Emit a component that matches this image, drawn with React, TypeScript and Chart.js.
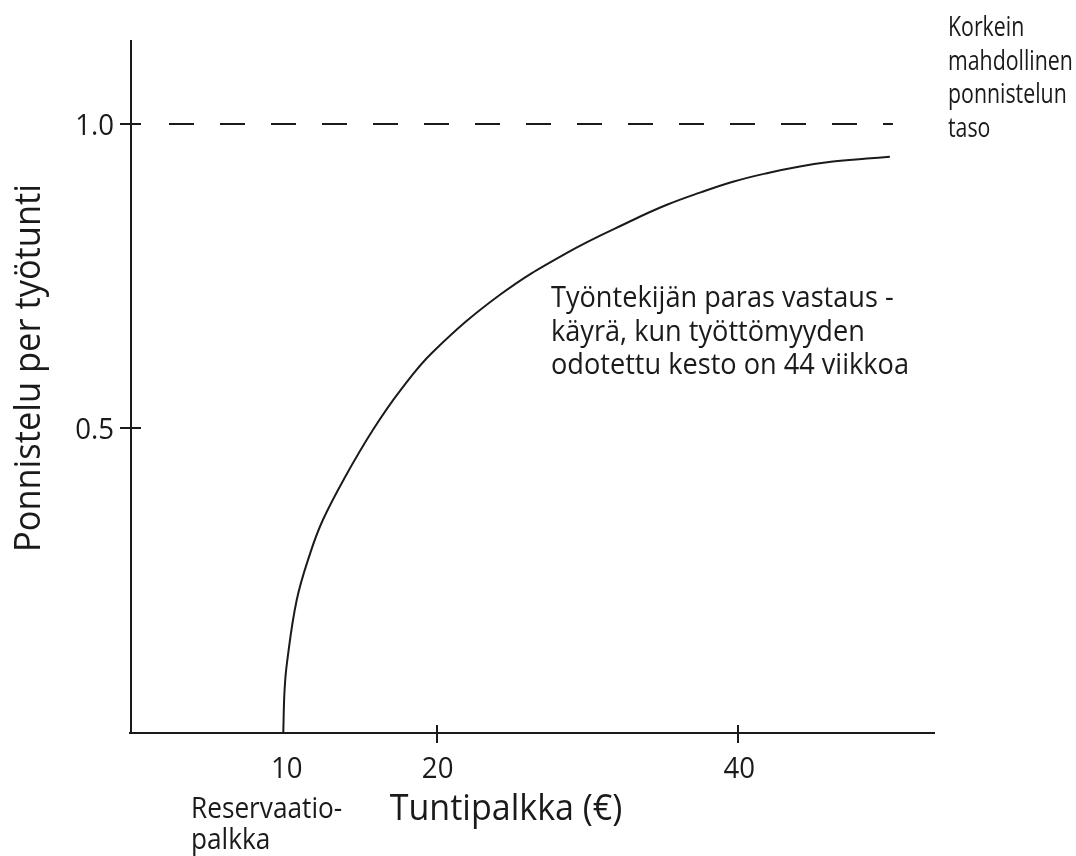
import React, { useEffect, useRef } from "react";
import { Chart, registerables } from "chart.js";

Chart.register(...registerables);

// ---- data ----
const wageValues = [9.83, 9.91, 10.07, 10.72, 11.6, 12.46, 13.92, 15.78, 17.57, 19.75, 24.2, 28.64, 33.02, 35.27, 37.46, 39.65, 41.9, 44.09, 46.28, 48.53, 50.06];
const effortValues = [0, 0.067, 0.113, 0.217, 0.293, 0.349, 0.419, 0.497, 0.561, 0.625, 0.719, 0.788, 0.842, 0.867, 0.887, 0.905, 0.919, 0.93, 0.938, 0.943, 0.946];
const maxEffortWage = [2.25, 50.26];
const maxEffortLevel = [1.0, 1.0];
const xTickValues = [20, 40];
const xLabelValues = [10, 20, 40];
const xLabelTexts = ["10", "20", "40"];
const yTickValues = [0.5, 1.0];
const yTickLabels = ["0.5", "1.0"];
const xAxisTitle = "Tuntipalkka (€)";
const yAxisTitle = "Ponnistelu per työtunti";
const reservationLabel = ["Reservaatio-", "palkka"];
const curveLabel = ["Työntekijän paras vastaus -", "käyrä, kun työttömyyden", "odotettu kesto on 44 viikkoa"];
const maxLabel = ["Korkein", "mahdollinen", "ponnistelun", "taso"];

const FONT = "'Open Sans', 'Noto Sans', sans-serif";
const INK = "#1a1a1a";
const SX = 0.92;

function drawText(
  ctx: CanvasRenderingContext2D,
  text: string,
  x: number,
  y: number,
  size: number,
  align: CanvasTextAlign = "left",
  sx: number = SX
) {
  ctx.save();
  ctx.translate(x, y);
  ctx.scale(sx, 1);
  ctx.font = `${size}px ${FONT}`;
  ctx.textAlign = align;
  ctx.textBaseline = "alphabetic";
  ctx.fillText(text, 0, 0);
  ctx.restore();
}

const decorPlugin = {
  id: "decor",
  afterDraw(chart: any) {
    const ctx = chart.ctx as CanvasRenderingContext2D;
    const xs = chart.scales.x;
    const ys = chart.scales.y;
    const area = chart.chartArea;
    const y0 = Math.round(ys.getPixelForValue(0)) + 1;
    ctx.save();
    ctx.strokeStyle = INK;
    ctx.fillStyle = INK;
    ctx.lineWidth = 2;
    // axes
    ctx.beginPath();
    ctx.moveTo(area.left, area.top);
    ctx.lineTo(area.left, y0);
    ctx.moveTo(area.left - 2, y0);
    ctx.lineTo(area.right, y0);
    ctx.stroke();
    // x ticks
    ctx.beginPath();
    xTickValues.forEach((v) => {
      const px = Math.round(xs.getPixelForValue(v));
      ctx.moveTo(px, y0 - 8);
      ctx.lineTo(px, y0 + 10);
    });
    // y ticks
    yTickValues.forEach((v) => {
      const py = Math.round(ys.getPixelForValue(v));
      ctx.moveTo(area.left - 11, py);
      ctx.lineTo(area.left + 10, py);
    });
    ctx.stroke();

    // x labels
    xLabelValues.forEach((v, i) => {
      drawText(ctx, xLabelTexts[i], xs.getPixelForValue(v) + 1, y0 + 45, 30, "center");
    });
    // y labels
    yTickValues.forEach((v, i) => {
      drawText(ctx, yTickLabels[i], area.left - 17, ys.getPixelForValue(v) + 11, 30, "right");
    });

    // axis titles
    drawText(ctx, xAxisTitle, 506, 820, 37, "center", 0.92);
    ctx.save();
    ctx.translate(40, 368);
    ctx.rotate(-Math.PI / 2);
    drawText(ctx, yAxisTitle, 0, 0, 37, "center", 0.93);
    ctx.restore();

    // reservation wage label
    reservationLabel.forEach((t, i) => drawText(ctx, t, 191, 818 + i * 31, 28.5));

    // curve label
    curveLabel.forEach((t, i) => drawText(ctx, t, 551, 307 + i * 33.5, 29.5));

    // max effort label
    maxLabel.forEach((t, i) => drawText(ctx, t, 948, 36 + i * 33.7, 27, "left", 0.79));
    ctx.restore();
  },
};

export default function App() {
  const ref = useRef<HTMLCanvasElement | null>(null);
  useEffect(() => {
    if (!ref.current) return;
    const chart = new Chart(ref.current, {
      type: "scatter",
      data: {
        datasets: [
          {
            data: wageValues.map((x, i) => ({ x, y: effortValues[i] })),
            showLine: true,
            borderColor: INK,
            borderWidth: 2,
            pointRadius: 0,
            tension: 0.4,
            clip: false,
          },
          {
            data: maxEffortWage.map((x, i) => ({ x, y: maxEffortLevel[i] })),
            showLine: true,
            borderColor: INK,
            borderWidth: 2,
            borderDash: [25, 26],
            pointRadius: 0,
          },
        ],
      },
      options: {
        responsive: false,
        animation: false,
        layout: { padding: { left: 131, right: 141, top: 40, bottom: 124 } },
        plugins: { legend: { display: false }, tooltip: { enabled: false } },
        scales: {
          x: { type: "linear", min: -0.27, max: 53.05, display: false },
          y: { type: "linear", min: 0, max: 1.138, display: false },
        },
      },
      plugins: [decorPlugin],
    } as any);
    return () => chart.destroy();
  }, []);
  return (
    <div style={{ position: "absolute", left: 0, top: 0, width: 1076, height: 856, background: "#fff" }}>
      <canvas ref={ref} width={1076} height={856} style={{ display: "block" }} />
    </div>
  );
}
